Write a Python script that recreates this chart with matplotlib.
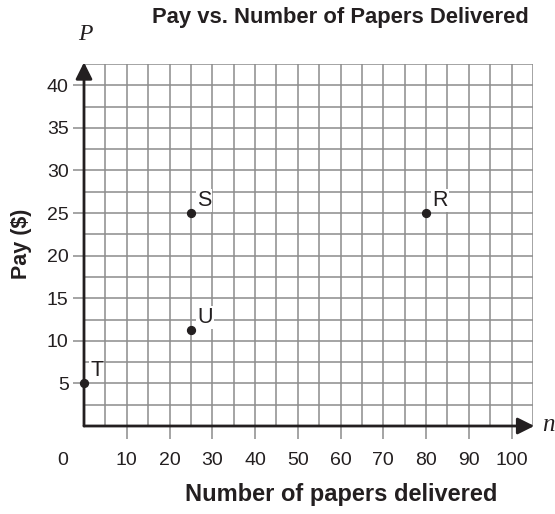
import matplotlib
matplotlib.use('Agg')
import matplotlib.pyplot as plt
import numpy as np

plt.rcParams['font.family'] = ['Liberation Sans', 'DejaVu Sans']

# points on the graph
point_names = ['S', 'R', 'U', 'T']
papers = [25, 80, 25, 0]
pay = [25, 25, 11.25, 5]

x_ticks = [10, 20, 30, 40, 50, 60, 70, 80, 90, 100]
y_ticks = [5, 10, 15, 20, 25, 30, 35, 40]

ink = '#231f20'
grid_col = '#8c8c8c'

fig = plt.figure(figsize=(5.55, 5.14), dpi=100)
ax = fig.add_axes([84 / 555, 88 / 514, 449 / 555, 362 / 514])
ax.set_xlim(0, 105)
ax.set_ylim(0, 42.5)

for gx in np.arange(5, 106, 5):
    ax.axvline(gx, color=grid_col, lw=1.1, zorder=1)
for gy in np.arange(2.5, 43, 2.5):
    ax.axhline(gy, color=grid_col, lw=1.1, zorder=1)

for s in ax.spines.values():
    s.set_visible(False)

ax.set_xticks(x_ticks)
ax.set_yticks(y_ticks)
ax.tick_params(axis='x', length=9, width=1.1, color=grid_col, labelsize=14,
               labelcolor=ink, pad=10)
ax.tick_params(axis='y', length=8, width=1.1, color=grid_col, labelsize=14,
               labelcolor=ink, pad=3)
ax.annotate('0', (0, 0), xytext=(-15, -19), textcoords='offset points',
            ha='center', va='top', fontsize=14, color=ink, annotation_clip=False)

# axes with arrows
arrow = dict(arrowstyle='-|>,head_length=1.0,head_width=0.5', color=ink, lw=2.0,
             shrinkA=0, shrinkB=0)
ax.annotate('', xy=(105.3, 0), xytext=(0, 0), arrowprops=arrow,
            annotation_clip=False, zorder=4)
ax.annotate('', xy=(0, 42.7), xytext=(0, 0), arrowprops=arrow,
            annotation_clip=False, zorder=4)

for name, px, py in zip(point_names, papers, pay):
    ax.annotate(name, (px, py), xytext=(4.5, 1.5), textcoords='offset points',
                fontsize=15.5, color=ink, ha='left', va='bottom', zorder=5,
                bbox=dict(boxstyle='square,pad=0.04', fc='white', ec='none'))
ax.scatter(papers, pay, s=32, color=ink, zorder=6, clip_on=False)

fig.text(85 / 555, 1 - 35 / 514, 'P', fontsize=17, ha='center', va='center',
         fontfamily='Liberation Serif', style='italic', color=ink)
fig.text(548 / 555, 1 - 425 / 514, 'n', fontsize=18, ha='center', va='center',
         fontfamily='Liberation Serif', style='italic', color=ink)

fig.text(340 / 555, 1 - 18 / 514, 'Pay vs. Number of Papers Delivered', ha='center',
         va='center', fontsize=15.8, fontweight='bold', color=ink)
fig.text(341 / 555, 1 - 495 / 514, 'Number of papers delivered', ha='center',
         va='center', fontsize=17, fontweight='bold', color=ink)
fig.text(22 / 555, 1 - 244 / 514, 'Pay ($)', ha='center', va='center', rotation=90,
         fontsize=15.5, fontweight='bold', color=ink)

fig.savefig('out.png', dpi=100)
